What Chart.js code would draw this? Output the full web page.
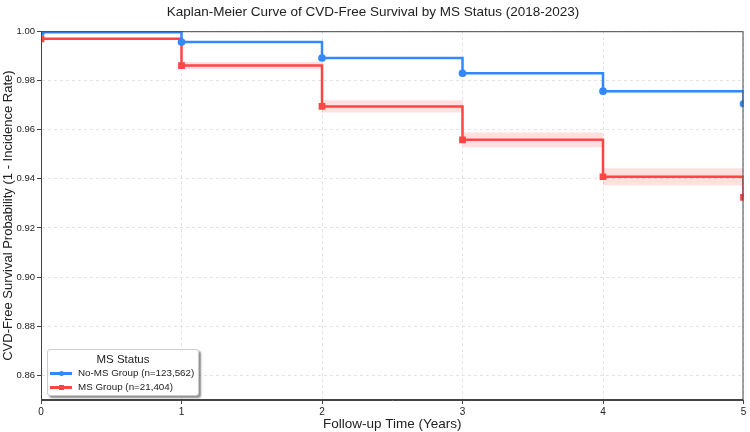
<!DOCTYPE html>
<html lang="en">
<head>
    <meta charset="UTF-8">
    <title>Kaplan-Meier CVD-Free Survival</title>
    <script src="https://cdn.jsdelivr.net/npm/chart.js@4.4.0/dist/chart.umd.min.js"></script>
    <style>
        html, body {
            margin: 0;
            padding: 0;
            background: white;
        }
        #wrap {
            position: relative;
            width: 750px;
            height: 432px;
        }
        .legend {
            position: absolute;
            left: 47px;
            top: 349px;
            width: 150px;
            height: 45px;
            background: white;
            border: 1px solid #ccc;
            border-radius: 3px;
            box-shadow: 2px 2px 2px rgba(0,0,0,0.45);
            font-family: "Liberation Sans", Arial, sans-serif;
            color: #222;
            white-space: nowrap;
        }
        .legend .title {
            text-align: center;
            font-size: 11.5px;
            line-height: 13px;
            margin-top: 3px;
        }
        .legend .row {
            display: flex;
            align-items: center;
            font-size: 9.8px;
            line-height: 14px;
            margin-left: 2px;
        }
        .legend .swatch {
            flex: none;
            position: relative;
            width: 22px;
            height: 10px;
            margin-right: 6px;
        }
        .legend .swatch .ln {
            position: absolute;
            left: 0;
            top: 4px;
            width: 22px;
            height: 2.5px;
        }
        .legend .swatch .mk {
            position: absolute;
            left: 8.5px;
            top: 2.5px;
            width: 5.5px;
            height: 5.5px;
        }
    </style>
</head>
<body>
<div id="wrap">
    <canvas id="kmChart" width="750" height="432"></canvas>
    <div class="legend">
        <div class="title">MS Status</div>
        <div class="row"><span class="swatch"><span class="ln" style="background:#3388ff"></span><span class="mk" style="background:#3388ff;border-radius:50%"></span></span>No-MS Group (n=123,562)</div>
        <div class="row"><span class="swatch"><span class="ln" style="background:#ff4444"></span><span class="mk" style="background:#ff4444"></span></span>MS Group (n=21,404)</div>
    </div>
</div>

<script>
// follow-up years
const years = [0, 1, 2, 3, 4, 5];

// survival estimates
const noMsSurv  = [0.9996, 0.9956, 0.9891, 0.9829, 0.9756, 0.9705];
const noMsLower = [0.9994, 0.9953, 0.9887, 0.9825, 0.9751, 0.9700];
const noMsUpper = [0.9998, 0.9959, 0.9895, 0.9833, 0.9761, 0.9710];

const msSurv  = [0.9969, 0.9860, 0.9694, 0.9558, 0.9408, 0.9324];
const msLower = [0.9965, 0.9845, 0.9669, 0.9528, 0.9373, 0.9284];
const msUpper = [0.9973, 0.9875, 0.9719, 0.9588, 0.9443, 0.9364];

const yTicks = [0.86, 0.88, 0.90, 0.92, 0.94, 0.96, 0.98, 1.00];
const xTicks = [0, 1, 2, 3, 4, 5];

const pts = arr => years.map((x, i) => ({ x: x, y: arr[i] }));

const BLUE = '#3388ff';
const RED = '#ff4444';
const FONT = '"Liberation Sans", Arial, sans-serif';

// full box around the plot area, like matplotlib spines
const framePlugin = {
    id: 'frame',
    afterDatasetsDraw(chart) {
        const a = chart.chartArea;
        const ctx = chart.ctx;
        ctx.save();
        ctx.strokeStyle = '#444';
        ctx.lineWidth = 1;
        ctx.strokeRect(a.left + 0.5, a.top + 0.5, a.right - a.left - 1, a.bottom - a.top - 1);
        ctx.restore();
    }
};

function band(data, color, fill) {
    return {
        data: pts(data),
        borderWidth: 0,
        borderColor: 'transparent',
        backgroundColor: color,
        pointRadius: 0,
        stepped: true,
        fill: fill,
        order: 2
    };
}

new Chart(document.getElementById('kmChart'), {
    type: 'line',
    data: {
        datasets: [
            {
                label: 'No-MS Group (n=123,562)',
                data: pts(noMsSurv),
                borderColor: BLUE,
                backgroundColor: BLUE,
                borderWidth: 2.5,
                pointRadius: 2.6,
                pointStyle: 'circle',
                stepped: true,
                fill: false,
                order: 0
            },
            {
                label: 'MS Group (n=21,404)',
                data: pts(msSurv),
                borderColor: RED,
                backgroundColor: RED,
                borderWidth: 2.5,
                pointRadius: 3,
                pointStyle: 'rect',
                stepped: true,
                fill: false,
                order: 0
            },
            band(noMsUpper, 'rgba(51,136,255,0.2)', '+1'),
            band(noMsLower, 'rgba(51,136,255,0.2)', false),
            band(msUpper, 'rgba(255,68,68,0.17)', '+1'),
            band(msLower, 'rgba(255,68,68,0.17)', false)
        ]
    },
    options: {
        responsive: false,
        animation: false,
        layout: { padding: { left: 0, right: 4, top: 0, bottom: 0 } },
        plugins: {
            legend: { display: false },
            tooltip: { enabled: false },
            title: {
                display: true,
                text: 'Kaplan-Meier Curve of CVD-Free Survival by MS Status (2018-2023)',
                color: '#222',
                font: { family: FONT, size: 13.5, weight: 'normal' },
                padding: { top: 4, bottom: 11 }
            }
        },
        scales: {
            x: {
                type: 'linear',
                min: 0,
                max: 5,
                afterBuildTicks: s => { s.ticks = xTicks.map(v => ({ value: v })); },
                afterFit: s => { s.height = 32; },
                ticks: {
                    color: '#222',
                    font: { family: FONT, size: 10 },
                    padding: 2,
                    maxRotation: 0
                },
                grid: {
                    color: '#e3e3e3',
                    tickColor: '#444',
                    tickLength: 4,
                    tickBorderDash: []
                },
                border: { display: true, color: '#444', dash: [3, 3] },
                title: {
                    display: true,
                    text: 'Follow-up Time (Years)',
                    color: '#222',
                    font: { family: FONT, size: 13.5 },
                    padding: { top: 0, bottom: 0 }
                }
            },
            y: {
                min: 0.85,
                max: 1.0,
                afterBuildTicks: s => { s.ticks = yTicks.map(v => ({ value: v })); },
                afterFit: s => { s.width = 41; },
                ticks: {
                    color: '#222',
                    font: { family: FONT, size: 9.5 },
                    padding: 2,
                    callback: v => v.toFixed(2)
                },
                grid: {
                    color: '#e3e3e3',
                    tickColor: '#444',
                    tickLength: 4,
                    tickBorderDash: []
                },
                border: { display: true, color: '#444', dash: [3, 3] },
                title: {
                    display: true,
                    text: 'CVD-Free Survival Probability (1 - Incidence Rate)',
                    color: '#222',
                    font: { family: FONT, size: 13 },
                    padding: { top: 1, bottom: 0 }
                }
            }
        }
    },
    plugins: [framePlugin]
});
</script>
</body>
</html>
